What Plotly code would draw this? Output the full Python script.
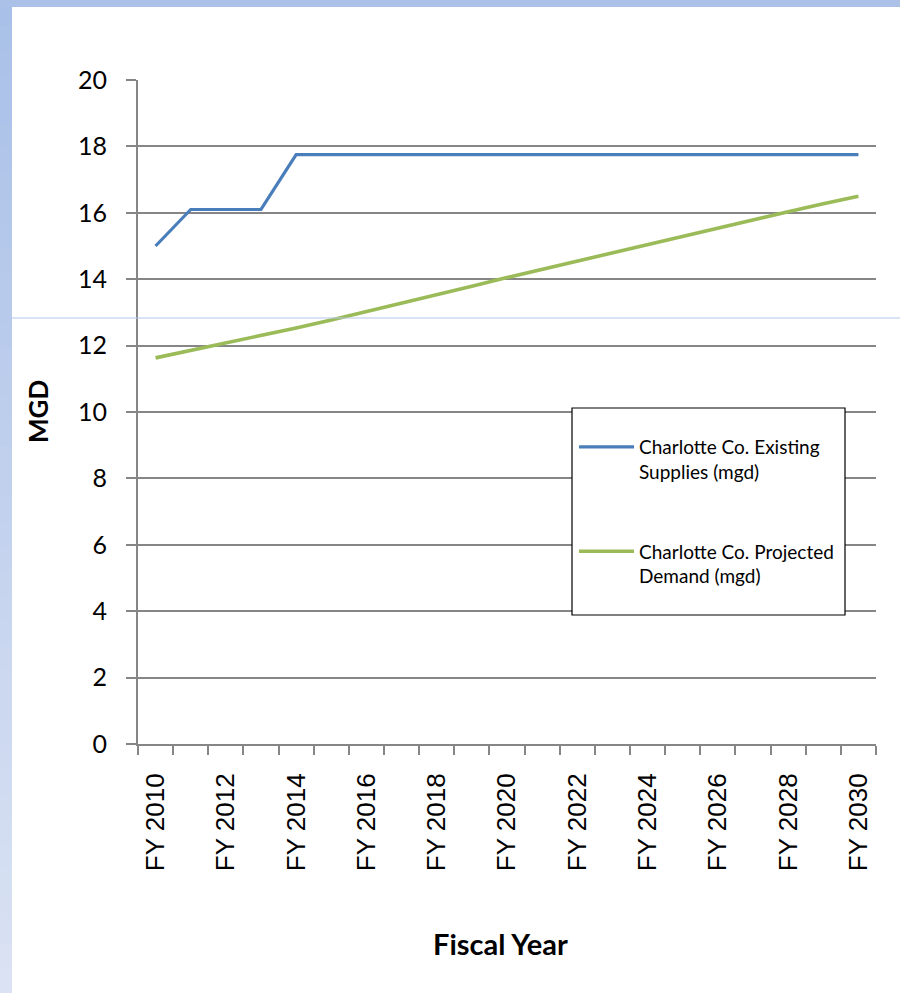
import plotly.graph_objects as go

# ---- data ----
years = list(range(2010, 2031))
supplies = [15.0, 16.1, 16.1, 16.1, 17.75, 17.75, 17.75, 17.75, 17.75, 17.75, 17.75,
            17.75, 17.75, 17.75, 17.75, 17.75, 17.75, 17.75, 17.75, 17.75, 17.75]
demand = [11.63, 11.85, 12.07, 12.30, 12.53, 12.77, 13.02, 13.27, 13.53, 13.79, 14.05,
          14.30, 14.55, 14.80, 15.05, 15.30, 15.55, 15.80, 16.03, 16.27, 16.50]
label_years = list(range(2010, 2031, 2))
tick_labels = [f"FY {y}" for y in label_years]
y_ticks = list(range(0, 21, 2))
series_names = ["Charlotte Co. Existing<br>Supplies (mgd)", "Charlotte Co. Projected<br>Demand (mgd)"]

W, H = 900, 993
L, R, T, B = 138, 24, 80, 249
pw, ph = W - L - R, H - T - B

def px(x):
    return (x - L) / pw

def py(y):
    return (H - B - y) / ph

GRID = "#868686"
fig = go.Figure()
fig.add_trace(go.Scatter(x=years, y=supplies, mode="lines", name=series_names[0],
                         line=dict(color="#4a7ebb", width=3.2), legendgroup="a"))
fig.add_trace(go.Scatter(x=years, y=demand, mode="lines", name=series_names[1],
                         line=dict(color="#9bbb59", width=3.6), legendgroup="b"))

shapes = []
# left gradient strip
n = 40
c0 = (169, 192, 232)
c1 = (218, 226, 243)
for i in range(n):
    t = i / (n - 1)
    c = tuple(int(round(c0[k] + (c1[k] - c0[k]) * t)) for k in range(3))
    shapes.append(dict(type="rect", xref="paper", yref="paper",
                       x0=px(0), x1=px(12), y0=py(H * i / n), y1=py(H * (i + 1) / n + 1),
                       fillcolor=f"rgb{c}", line=dict(width=0), layer="above"))
# top strip
shapes.append(dict(type="rect", xref="paper", yref="paper", x0=px(0), x1=px(W),
                   y0=py(0), y1=py(7), fillcolor="rgb(171,193,232)", line=dict(width=0), layer="above"))
# thin horizontal line
shapes.append(dict(type="line", xref="paper", yref="paper", x0=px(0), x1=px(W),
                   y0=py(318), y1=py(318), line=dict(color="#b4c7ea", width=1), layer="above"))
# legend box
shapes.append(dict(type="rect", xref="paper", yref="paper", x0=px(572), x1=px(845),
                   y0=py(615), y1=py(408), fillcolor="white", line=dict(color="black", width=1.2),
                   layer="above"))

fig.update_layout(
    width=W, height=H,
    margin=dict(l=L, r=R, t=T, b=B),
    paper_bgcolor="white", plot_bgcolor="white",
    font=dict(family="Lato, Open Sans, sans-serif", color="black"),
    showlegend=True,
    legend=dict(x=px(574), y=py(428), xanchor="left", yanchor="top",
                bgcolor="rgba(0,0,0,0)", borderwidth=0, valign="top", itemwidth=55,
                tracegroupgap=52, font=dict(size=19, family="Lato, sans-serif")),
    shapes=shapes,
    annotations=[
        dict(text="<b>MGD</b>", xref="paper", yref="paper", x=px(38), y=py(412),
             xanchor="center", yanchor="middle",
             showarrow=False, textangle=-90, font=dict(size=26, family="Lato, sans-serif")),
        dict(text="<b>Fiscal Year</b>", xref="paper", yref="paper", x=px(500), y=py(943),
             xanchor="center", yanchor="middle",
             showarrow=False, font=dict(size=29, family="Lato, sans-serif")),
    ],
)
fig.update_xaxes(
    range=[2009.5, 2030.5], tickmode="array", tickvals=label_years, ticktext=tick_labels,
    tickangle=-90, ticks="", tickfont=dict(size=26, family="Liberation Sans, Arial, sans-serif"),
    ticklabelstandoff=17,
    showgrid=False, showline=True, linecolor=GRID, linewidth=2, zeroline=False,
    minor=dict(tickmode="array", tickvals=[2009.5 + i for i in range(22)], ticks="outside",
               ticklen=9, tickwidth=2, tickcolor=GRID, showgrid=False),
)
fig.update_yaxes(
    range=[0, 20], tickmode="array", tickvals=y_ticks, ticks="outside", ticklen=10,
    tickwidth=2, tickcolor=GRID, tickfont=dict(size=25, family="Lato, sans-serif"),
    ticklabelstandoff=14,
    showgrid=True, gridcolor=GRID, gridwidth=2, showline=True, linecolor=GRID, linewidth=2,
    zeroline=False,
)
fig.write_html("out.html", config={"displayModeBar": False},
               post_script="document.body.style.margin='0px';")
